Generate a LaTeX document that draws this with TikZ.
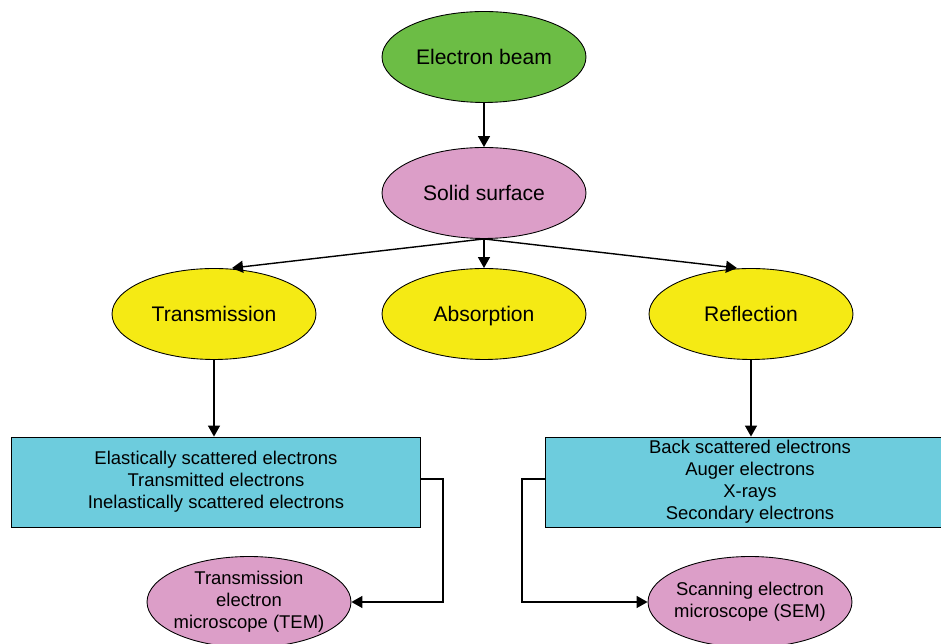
\documentclass[tikz,border=0pt]{standalone}
\usepackage{fontspec}
\setmainfont{Liberation Sans}
\usepackage{tikz}
\usetikzlibrary{arrows.meta, shapes.geometric}
\definecolor{beamgreen}{RGB}{108,189,69}
\definecolor{surfpink}{RGB}{220,158,200}
\definecolor{effyellow}{RGB}{245,234,20}
\definecolor{sigcyan}{RGB}{109,204,221}

\begin{document}
\begin{tikzpicture}[x=0.02cm, y=-0.02cm,
	oval/.style={ellipse, draw, line width=0.5pt, inner sep=0pt, minimum width=4.08cm, minimum height=1.82cm, align=center},
	bigtxt/.style={font=\fontsize{12}{14}\selectfont, text depth=0pt},
	smalltxt/.style={font=\fontsize{10.5}{12.6}\selectfont},
	tightoval/.style={oval, smalltxt, inner xsep=-3pt, inner ysep=-2pt},
	sigbox/.style={rectangle, draw, line width=0.5pt, fill=sigcyan, minimum width=8.18cm, minimum height=1.8cm, inner ysep=0pt, align=center, smalltxt},
	arr/.style={line width=0.8pt, -{Triangle[length=2.2mm, width=2.4mm]}}]
	\useasboundingbox (0,0) rectangle (941,644);
	\clip (0,0) rectangle (941,644);
	\node[oval, bigtxt, fill=beamgreen] (beam) at (484,57) {Electron beam};
	\node[oval, bigtxt, fill=surfpink] (surf) at (484,193) {Solid surface};
	\node[oval, bigtxt, fill=effyellow] (trans) at (214,314) {Transmission};
	\node[oval, bigtxt, fill=effyellow] (abs) at (484,314) {Absorption};
	\node[oval, bigtxt, fill=effyellow] (refl) at (751,314) {Reflection};
	\node[sigbox] (lbox) at (216,482) {Elastically scattered electrons\\Transmitted electrons\\Inelastically scattered electrons};
	\node[sigbox] (rbox) at (750,482) {Back scattered electrons\\Auger electrons\\X-rays\\Secondary electrons};
	\node[tightoval, fill=surfpink] (tem) at (249,602) {Transmission\\electron\\microscope (TEM)};
	\node[tightoval, fill=surfpink] (sem) at (750,602) {Scanning electron\\microscope (SEM)};
	\draw[arr] (beam) -- (surf);
	\draw[arr] (surf.south) -- ([xshift=0.36cm]trans.north);
	\draw[arr] (surf.south) -- (abs.north);
	\draw[arr] (surf.south) -- ([xshift=-0.28cm]refl.north);
	\draw[arr] (trans.south) -- (trans.south |- lbox.north);
	\draw[arr] (refl.south) -- (refl.south |- rbox.north);
	\draw[arr] ([yshift=0.06cm]lbox.east) -- ++(22,0) |- (tem.east);
	\draw[arr] ([yshift=0.06cm]rbox.west) -- ++(-23,0) |- (sem.west);
\end{tikzpicture}
\end{document}
